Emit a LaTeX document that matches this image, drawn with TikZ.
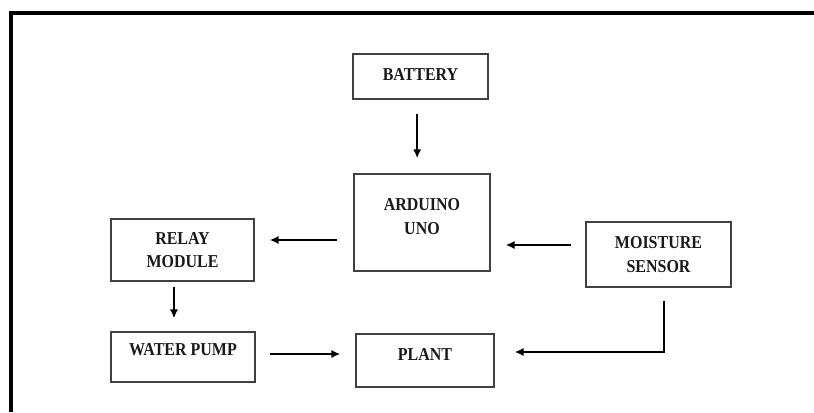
\documentclass[tikz,border=0pt]{standalone}
\usepackage{fontspec}
\setmainfont{Liberation Serif}[FakeStretch=0.88]
\usepackage{tikz}
\usetikzlibrary{arrows.meta,positioning}
\newcommand{\lowpad}[1]{\rule[-#1]{0pt}{#1}}

\begin{document}
\begin{tikzpicture}[
  x=0.03cm, y=-0.03cm,
  font=\bfseries\fontsize{15.5}{20}\selectfont,
  block/.style={draw=black!75, line width=1.2pt, align=center, text=black!90, inner sep=2pt},
  arrow/.style={-{Latex[length=2.7mm,width=2.5mm]}, line width=1.6pt, shorten <=4.2mm, shorten >=4.5mm},
  frame/.style={line width=2.6pt}
]
\useasboundingbox (0,0) rectangle (814,412);
\draw[frame] (11,412) |- (814,13);
\node[block, minimum width=4.05cm, minimum height=1.35cm] (battery) at (420.5,76.5) {BATTERY\lowpad{4pt}};
\node[block, minimum width=4.08cm, minimum height=2.91cm] (arduino) at (422,222.5) {ARDUINO\\UNO\lowpad{10pt}};
\node[block, minimum width=4.29cm, minimum height=1.86cm] (relay) at (182.5,250) {RELAY\\MODULE};
\node[block, minimum width=4.35cm, minimum height=1.95cm] (sensor) at (658.5,254.5) {MOISTURE\\SENSOR};
\node[block, minimum width=4.32cm, minimum height=1.5cm] (pump) at (183,357) {WATER PUMP\lowpad{12pt}};
\node[block, minimum width=4.14cm, minimum height=1.59cm] (plant) at (425,360.5) {PLANT\lowpad{10pt}};
\draw[arrow] ([xshift=-1mm]battery.south) -- ([xshift=-1mm]battery.south |- arduino.north);
\draw[arrow, shorten <=5mm] ([yshift=-5.25mm]arduino.west) -- ([yshift=-5.25mm]arduino.west -| relay.east);
\draw[arrow] ([yshift=2.85mm]sensor.west) -- ([yshift=2.85mm]sensor.west -| arduino.east);
\draw[arrow, shorten <=1.5mm, shorten >=3.9mm] ([xshift=-2.55mm]relay.south) -- ([xshift=-2.55mm]relay.south |- pump.north);
\draw[arrow] ([yshift=0.9mm]pump.east) -- ([yshift=0.9mm]pump.east -| plant.west);
\draw[arrow, shorten <=3.9mm, shorten >=6mm] ([xshift=1.65mm]sensor.south) |- ([yshift=2.55mm]plant.east);
\end{tikzpicture}
\end{document}
